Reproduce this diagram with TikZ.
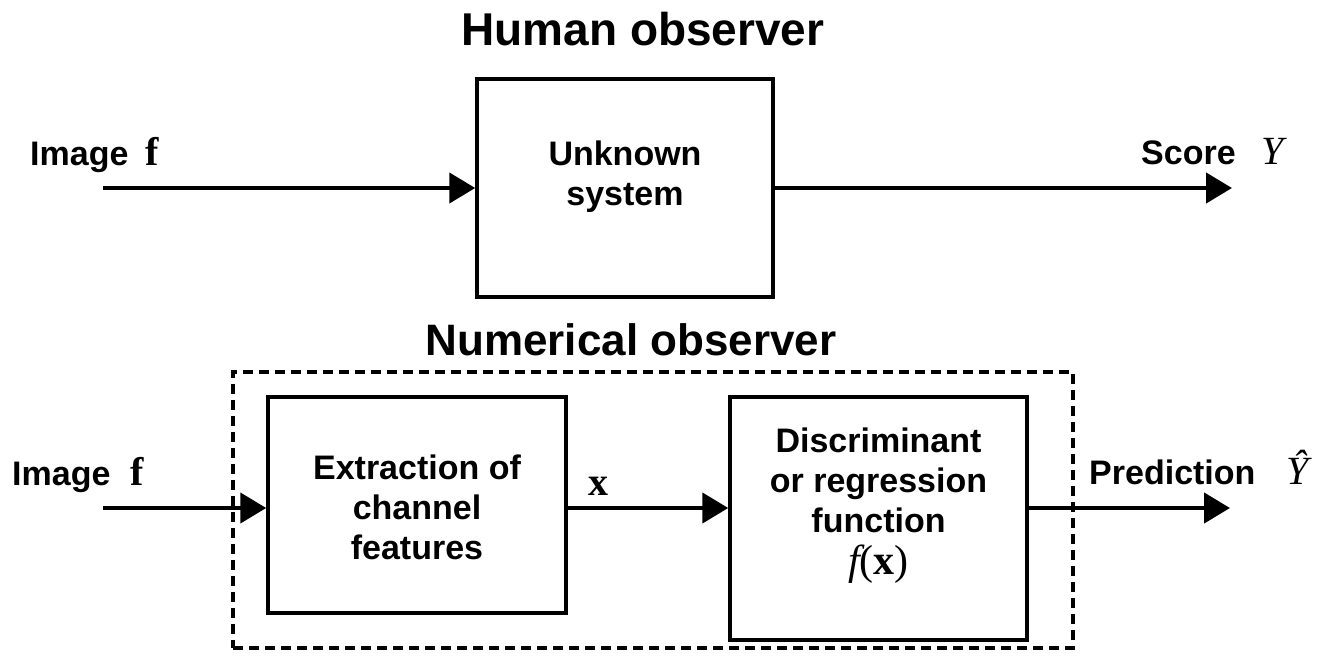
\documentclass[tikz,border=0pt]{standalone}
\usepackage{fontspec}
\setmainfont{Liberation Sans}
\newfontfamily\serif{Liberation Serif}
\newcommand{\mth}{\fontsize{40}{40}\selectfont\serif}
\usetikzlibrary{arrows.meta}
\begin{document}
\begin{tikzpicture}[x=1pt,y=-1pt,
  blk/.style={draw, line width=3.5pt, inner sep=0pt},
  lbl/.style={font=\fontsize{34}{40}\selectfont\bfseries, align=center, inner sep=0pt},
  ttl/.style={font=\fontsize{44}{50}\selectfont\bfseries, inner sep=0pt},
  arr/.style={line width=4.5pt, -{Triangle[length=26pt,width=30pt]}}]
\useasboundingbox (0,0) rectangle (1337,659);
% top
\node[ttl, font=\fontsize{46}{50}\selectfont\bfseries] (t1) at (643,29) {Human observer};
\node[blk, minimum width=296pt, minimum height=218pt] (u) at (625,188) {};
\node[lbl] (ut) at (625,177) {Unknown\\system};
\coordinate (in1) at (103,188);
\coordinate (out1) at (1232,188);
\draw[arr] (in1) -- (u.west);
\draw[arr] (u.east) -- (out1);
\node[lbl, anchor=base west] (il1) at (30,165) {Image\hspace{0.5em}{\mth f}};
\node[lbl, anchor=base west] (sl) at (1141,164) {Score\hspace{0.75em}{\mth\mdseries\itshape Y}};
% bottom
\node[ttl] (t2) at (631,340) {Numerical observer};
\node[draw, line width=4pt, dash pattern=on 10pt off 6pt, minimum width=840pt, minimum height=276pt, inner sep=0pt] (nb) at (653,510) {};
\node[blk, minimum width=298pt, minimum height=216pt] (b1) at (417,505) {};
\node[lbl] (b1t) at (417,507) {Extraction of\\channel\\features};
\node[blk, minimum width=297pt, minimum height=243pt] (b2) at (878.5,518.5) {};
\node[lbl] (b2t) at (878.5,506) {Discriminant\\or regression\\function\\[2pt]{\fontsize{42}{42}\selectfont\serif\mdseries\itshape f}{\fontsize{42}{42}\selectfont\serif\mdseries(\textbf{x})}};
\coordinate (in2) at (103,508);
\coordinate (out2) at (1230,508);
\draw[arr] (in2) -- (in2 -| b1.west);
\draw[arr] (b1.east |- in2) -- node[lbl, above=10pt, pos=0.19] (xl) {\mth x} (b2.west |- in2);
\draw[arr] (b2.east |- in2) -- (out2);
\node[lbl, anchor=base west] (il2) at (12,485) {Image\hspace{0.6em}{\mth f}};
\node[lbl, anchor=base west] (pl) at (1089,484) {Prediction\hspace{0.9em}{\mth\mdseries\itshape Ŷ}};
\end{tikzpicture}
\end{document}
